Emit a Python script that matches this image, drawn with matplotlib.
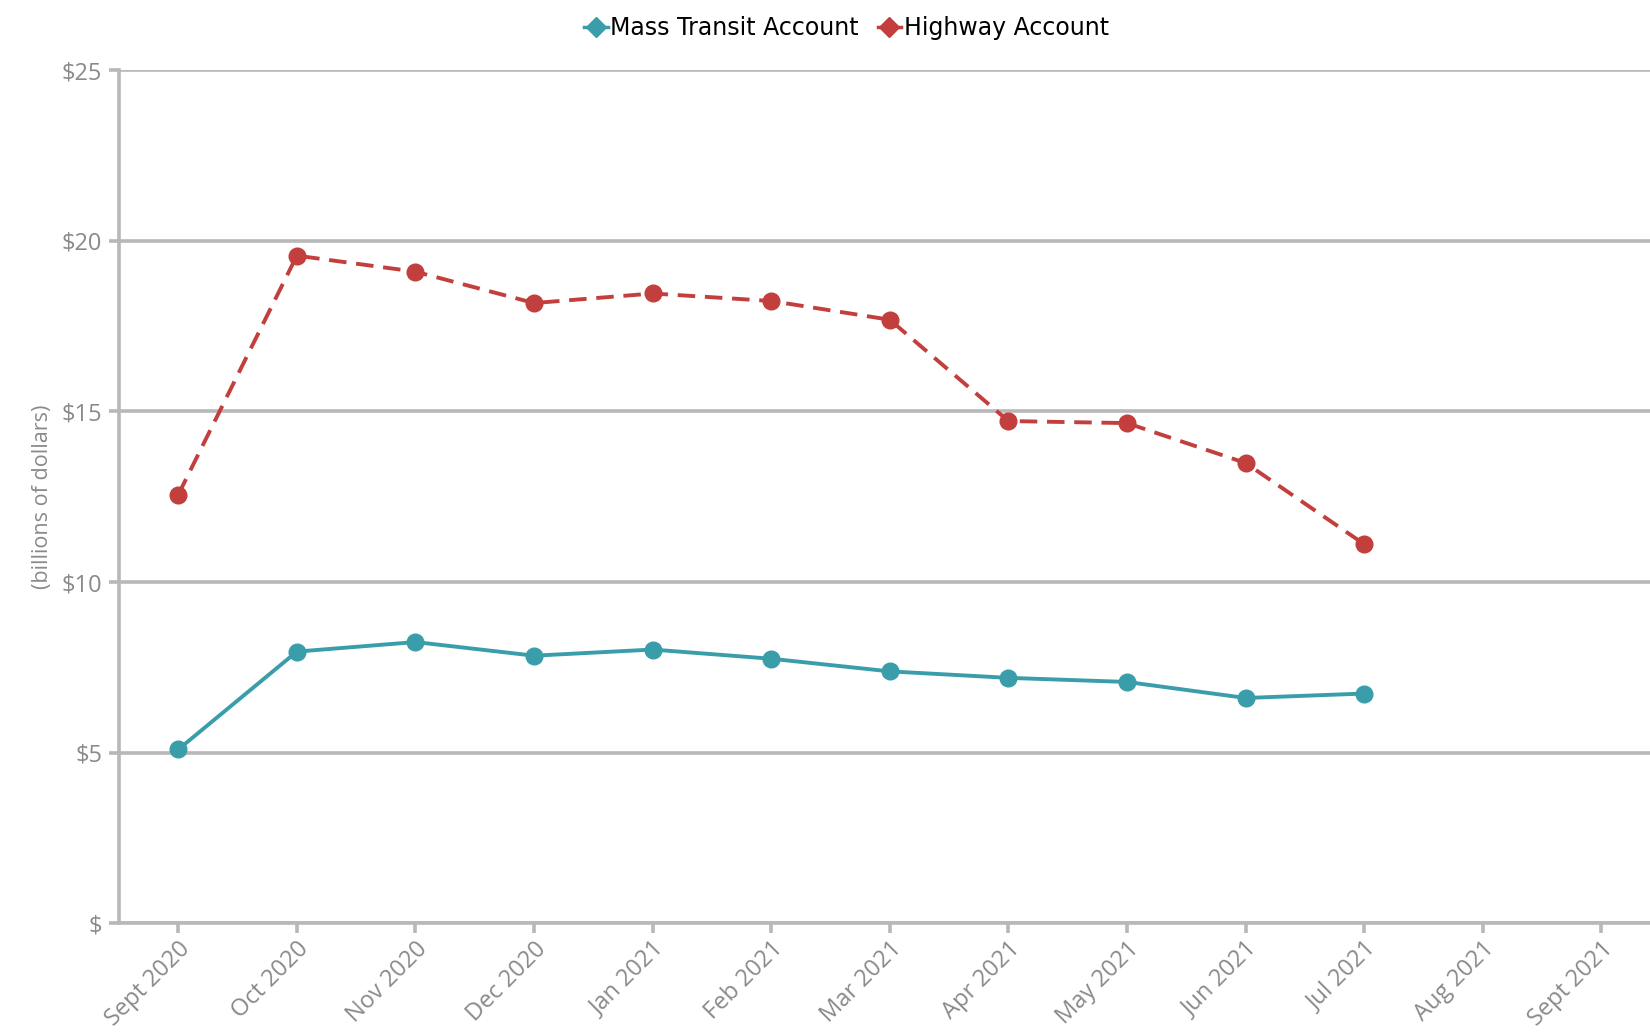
import matplotlib
matplotlib.use("Agg")
import matplotlib.pyplot as plt
from matplotlib.lines import Line2D
from matplotlib.ticker import FuncFormatter

months = ['Sept 2020', 'Oct 2020', 'Nov 2020', 'Dec 2020', 'Jan 2021', 'Feb 2021',
          'Mar 2021', 'Apr 2021', 'May 2021', 'Jun 2021', 'Jul 2021', 'Aug 2021',
          'Sept 2021']
highway = [12.56, 19.57, 19.10, 18.18, 18.46, 18.24, 17.69, 14.72, 14.66, 13.49, 11.11]
transit = [5.09, 7.96, 8.24, 7.84, 8.02, 7.75, 7.38, 7.19, 7.07, 6.60, 6.73]
yticks = [0, 5, 10, 15, 20, 25]

teal = '#3a9eaa'
red = '#c23f3d'
grey = '#b8b8b8'
txt = '#8a8a8a'

plt.rcParams['font.family'] = ['Open Sans', 'DejaVu Sans']

fig = plt.figure(figsize=(16.5, 10.36), dpi=100)
ax = fig.add_axes([0.0721, 0.109, 0.9279, 0.823])

x = list(range(len(highway)))
ax.plot(x, transit, color=teal, lw=2.8, marker='o', ms=12, zorder=3)
ax.plot(x, highway, color=red, lw=2.8, ls=(0, (4.5, 2.5)), marker='o', ms=12, zorder=3)

ax.set_xlim(-0.5, 12.41)
ax.set_ylim(0, 25)
ax.set_yticks(yticks)
ax.yaxis.set_major_formatter(FuncFormatter(lambda v, p: '$' if v == 0 else f'${v:.0f}'))
ax.set_xticks(range(len(months)))
ax.set_xticklabels(months, rotation=45, ha='right', rotation_mode='anchor')

ax.grid(axis='y', color=grey, lw=2.6)
ax.set_axisbelow(True)
for s in ['top', 'right']:
    ax.spines[s].set_visible(False)
ax.spines['left'].set_color(grey)
ax.spines['left'].set_linewidth(2.6)
ax.spines['bottom'].set_color(grey)
ax.spines['bottom'].set_linewidth(2.6)
ax.tick_params(axis='both', colors=grey, width=2.6, length=7, labelcolor=txt, labelsize=17)
ax.tick_params(axis='y', pad=5)
ax.tick_params(axis='x', pad=3)

ax.set_ylabel('(billions of dollars)', color=txt, fontsize=15.5, labelpad=6)

handles = [Line2D([], [], color=teal, lw=2.5, marker='D', ms=10),
           Line2D([], [], color=red, lw=2.5, marker='D', ms=10)]
fig.legend(handles, ['Mass Transit Account', 'Highway Account'],
           loc='center', bbox_to_anchor=(0.513, 0.973), ncol=2, frameon=False,
           handlelength=1.0, handletextpad=0.1, columnspacing=0.8,
           prop={'family': ['Liberation Sans Narrow', 'DejaVu Sans'], 'size': 17})

fig.savefig('out.png', dpi=100)
